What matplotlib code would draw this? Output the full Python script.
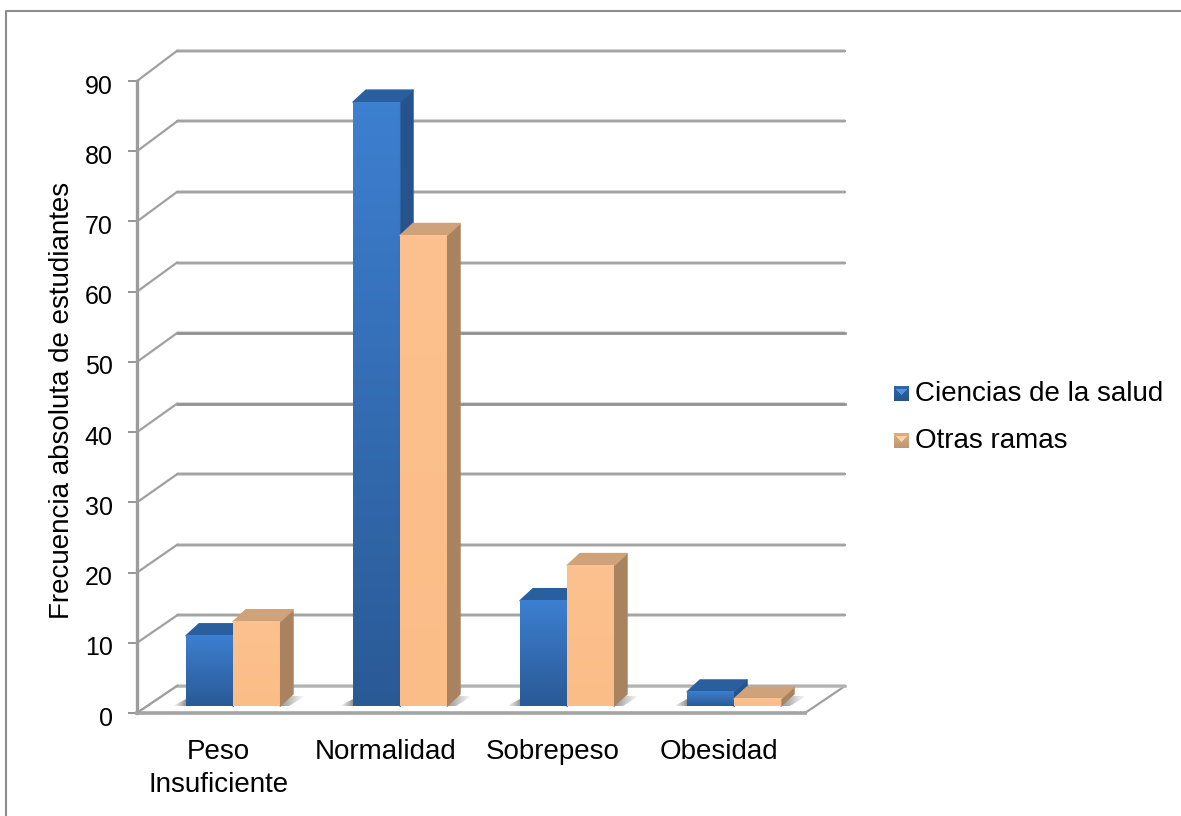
import numpy as np
import matplotlib
matplotlib.use("Agg")
import matplotlib.pyplot as plt
from matplotlib.colors import LinearSegmentedColormap, to_rgb
from matplotlib.patches import Polygon
from matplotlib.transforms import ScaledTranslation

plt.rcParams['font.family'] = ['Liberation Sans', 'DejaVu Sans']

categories = ["Peso\nInsuficiente", "Normalidad", "Sobrepeso", "Obesidad"]
salud = [10, 86, 15, 2]
otras = [12, 67, 20, 1]
series_names = ["Ciencias de la salud", "Otras ramas"]
y_ticks = [0, 10, 20, 30, 40, 50, 60, 70, 80, 90]

W, H = 1181, 816
# pixels per data unit on the front plane
PX_X = 167.0
PX_Y = 632 / 90

wall_dx = 40 / PX_X
wall_dy = 27 / PX_Y
bar_dx = 13 / PX_X
bar_dy = 12 / PX_Y
bar_w = 47 / PX_X
bar_base = 7 / PX_Y
group_center = 0.575

fig = plt.figure(figsize=(W / 100, H / 100), dpi=100, facecolor="white")
ax = fig.add_axes([137 / W, 1 - 713 / H, 668 / W, 632 / H])
ax.patch.set_alpha(0)
ax.set_xlim(0, 4)
ax.set_ylim(0, 90)

# outer chart frame
fig.add_artist(plt.Line2D([5.5 / W, 5.5 / W, 1], [0, 1 - 10.5 / H, 1 - 10.5 / H],
                          color="#8c8c8c", lw=1.5))


def wall_y(v):
    return v * 1.005 + wall_dy


# gridlines on the back wall and their diagonals on the side wall
for v in y_ticks:
    thick = v in (40, 50)
    col = "#8f8f8f" if thick else "#a4a4a4"
    ax.plot([wall_dx, 4 + wall_dx], [wall_y(v), wall_y(v)], color="#d4d4d4",
            lw=2.8, clip_on=False, zorder=1, solid_capstyle="butt")
    ax.plot([wall_dx, 4 + wall_dx], [wall_y(v), wall_y(v)], color=col,
            lw=1.9 if thick else 1.5, clip_on=False, zorder=1.1)
    ax.plot([0, wall_dx], [v, wall_y(v)], color="#a0a0a0", lw=1.6,
            clip_on=False, zorder=1.1)

# floor
floor = [(0, 0), (4, 0), (4 + wall_dx, wall_dy), (wall_dx, wall_dy)]
ax.add_patch(Polygon(floor, closed=True, fc="white", ec="none", zorder=1.2, clip_on=False))
ax.plot([4, 4 + wall_dx], [0, wall_dy], color="#a0a0a0", lw=1.6, clip_on=False, zorder=1.3)
ax.plot([wall_dx, 4 + wall_dx], [wall_dy, wall_dy], color="#b4b4b4", lw=1.8,
        clip_on=False, zorder=1.3)
ax.plot([0, wall_dx], [0, wall_dy], color="#a0a0a0", lw=1.6, clip_on=False, zorder=1.3)


def ground_shadow(points, x0, x1, reverse, z):
    # soft grey wedge falling on the floor beside a bar group
    a = np.linspace(0, 0.65, 64).reshape(1, -1)
    if reverse:
        a = a[:, ::-1]
    rgba = np.zeros((1, 64, 4))
    rgba[..., :3] = 0.35
    rgba[..., 3] = a
    im = ax.imshow(rgba, extent=[x0, x1, bar_base, bar_base + 10 / PX_Y],
                   aspect="auto", origin="lower", zorder=z, interpolation="bilinear")
    clip = Polygon(points, closed=True, transform=ax.transData, fc="none", ec="none")
    ax.add_patch(clip)
    im.set_clip_path(clip)


def draw_bar(x, v, front_top, front_bottom, side, top, z):
    y0 = bar_base
    y1 = bar_base + v
    side_poly = [(x + bar_w, y0), (x + bar_w + bar_dx, y0 + bar_dy),
                 (x + bar_w + bar_dx, y1 + bar_dy), (x + bar_w, y1)]
    top_poly = [(x, y1), (x + bar_w, y1), (x + bar_w + bar_dx, y1 + bar_dy),
                (x + bar_dx, y1 + bar_dy)]
    ax.add_patch(Polygon(side_poly, closed=True, fc=side, ec=side, lw=1, joinstyle="round", zorder=z))
    ax.add_patch(Polygon(top_poly, closed=True, fc=top, ec=top, lw=1, joinstyle="round", zorder=z))
    cmap = LinearSegmentedColormap.from_list("face", [front_bottom, front_top])
    grad = np.linspace(0, 1, 128).reshape(-1, 1)
    ax.imshow(grad, extent=[x, x + bar_w, y0, y1], origin="lower", aspect="auto",
              cmap=cmap, zorder=z + 0.1, interpolation="bilinear")
    ax.plot([x + bar_w, x + bar_w], [y0, y1], color=side, lw=0.8, alpha=0.6, zorder=z + 0.2)


for i in range(len(categories)):
    c = i + group_center
    left = c - bar_w
    right = c + bar_w
    ground_shadow([(left - 13 / PX_X, bar_base), (left, bar_base), (left, bar_base + 7 / PX_Y)],
                  left - 13 / PX_X, left, False, 2)
    ground_shadow([(right, bar_base), (right + 9 / PX_X, bar_base),
                   (right + 25 / PX_X, bar_base + 10 / PX_Y), (right + 12 / PX_X, bar_base + 10 / PX_Y)],
                  right, right + 25 / PX_X, True, 2)
    z = 3 + i
    draw_bar(left, salud[i], "#3d7fd0", "#2a5a96", "#26538c", "#2a5f9f", z)
    draw_bar(c, otras[i], "#fcc18e", "#fbbd88", "#a9825f", "#cfa27a", z + 0.5)

ax.set_xlim(0, 4)
ax.set_ylim(0, 90)

# axes
for name in ("top", "right"):
    ax.spines[name].set_visible(False)
ax.spines["left"].set_color("#9c9c9c")
ax.spines["left"].set_linewidth(2.4)
ax.spines["bottom"].set_color("#a4a4a4")
ax.spines["bottom"].set_linewidth(2.6)
ax.set_yticks(y_ticks)
ax.set_xticks([i + 0.487 for i in range(len(categories))])
ax.set_xticklabels(categories, linespacing=1.38)
ax.tick_params(axis="y", length=6.5, width=1.3, color="#8c8c8c", pad=11, labelsize=18,
               labelcolor="black")
ax.tick_params(axis="x", length=0, pad=18.5, labelsize=20, labelcolor="black")
nudge = ScaledTranslation(0, -3 / 100, fig.dpi_scale_trans)
for lab in ax.get_yticklabels():
    lab.set_transform(lab.get_transform() + nudge)
fig.text(62 / W, 1 - 400 / H, "Frecuencia absoluta de estudiantes", rotation=90,
         ha="center", va="center", fontsize=20, color="black")


def swatch(y_px, light, mid, dark):
    # small bevelled legend key
    s = fig.add_axes([894 / W, 1 - (y_px + 8) / H, 15 / W, 15 / H])
    n = 15
    yy, xx = np.mgrid[0:n, 0:n]
    img = np.zeros((n, n, 3))
    c = (n - 1) / 2
    t = (yy / (n - 1))[..., None]
    img[:] = (1 - t) * np.array(to_rgb(mid)) + t * np.array(to_rgb(dark))
    img[(yy >= 3) & (yy <= 8) & (np.abs(xx - c) < (9 - yy))] = to_rgb(light)
    s.imshow(img, interpolation="bilinear", aspect="auto")
    s.axis("off")


swatch(393, "#4f93e0", "#2f66ac", "#26538c")
swatch(440, "#fcd2a8", "#dcae84", "#bd9671")
fig.text(915 / W, 1 - 394 / H, series_names[0], ha="left", va="center", fontsize=20, color="black")
fig.text(915 / W, 1 - 441 / H, series_names[1], ha="left", va="center", fontsize=20, color="black")

fig.savefig("out.png", dpi=100, facecolor="white")
